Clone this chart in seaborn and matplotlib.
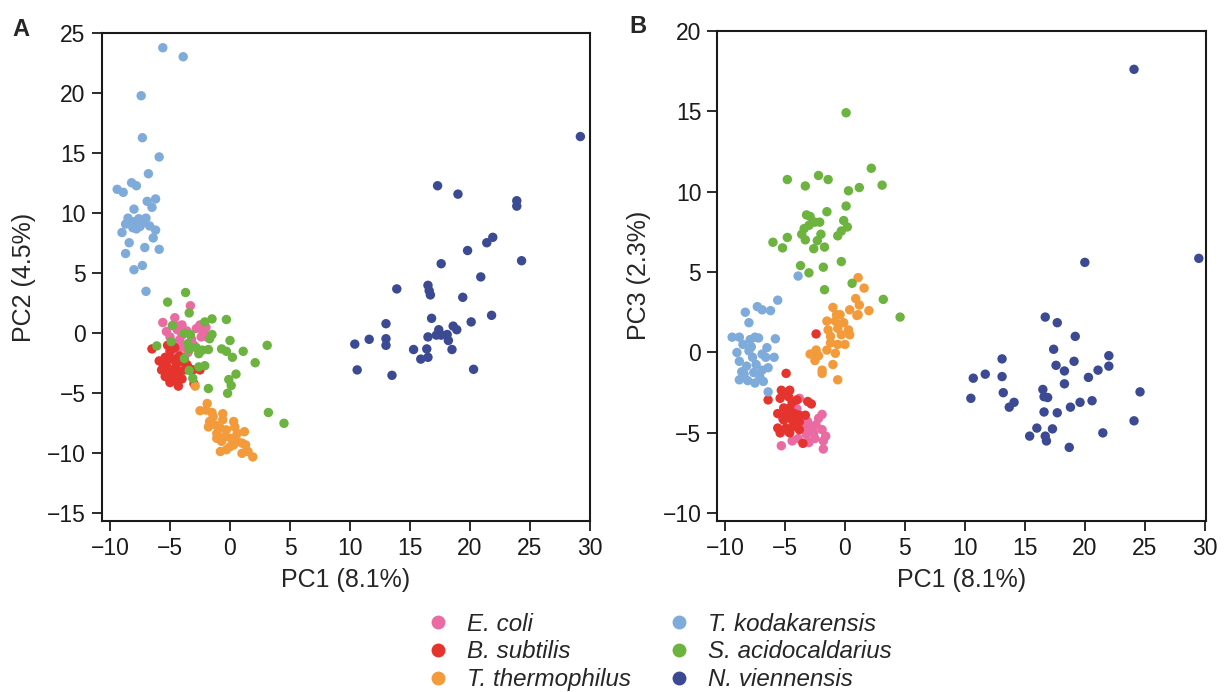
import pandas as pd
import matplotlib
matplotlib.use("Agg")
import matplotlib.pyplot as plt
import seaborn as sns

# ---------------------------------------------------------------------------
# Data (A: PC1 vs PC2, B: PC1 vs PC3)
# ---------------------------------------------------------------------------

species = ["E. coli", "B. subtilis", "T. thermophilus",
           "T. kodakarensis", "S. acidocaldarius", "N. viennensis"]
colors = ["#EA6BA2", "#E5332D", "#F39A3B", "#7FABDA", "#6CB33F", "#3B4A92"]

# E. coli
ecoli_a_pc1 = [-3.3, -4.6, -5.6, -4.0, -2.5, -2.0, -5.3, -4.4, -2.2, -4.2, -4.6, -3.0,
               -3.9, -4.0, -5.0, -4.4, -1.9, -3.6, -2.8, -4.8, -3.2, -2.4, -4.3, -3.5]
ecoli_a_pc2 = [2.3, 1.3, 0.9, 0.7, 0.7, 0.5, 0.15, 0.3, 0.15, -0.55, -0.85, -1.0,
               -1.15, -0.15, -0.3, -1.5, -0.3, 0.2, 0.4, -0.8, -0.5, -0.3, 0.6, -1.6]
ecoli_b_pc1 = [-3.8, -1.9, -5.2, -3.1, -2.4, -1.9, -2.6, -3.2, -2.5, -1.8, -5.3, -4.4,
               -1.8, -3.9, -2.9, -5.1, -4.0, -2.2, -3.0, -2.7, -4.8, -1.6, -3.4]
ecoli_b_pc3 = [-2.85, -3.85, -4.1, -4.3, -4.5, -4.8, -5.0, -5.1, -5.35, -5.5, -5.8, -5.5,
               -6.0, -5.35, -4.7, -3.8, -3.5, -4.1, -5.6, -4.6, -4.9, -5.2, -4.6]

# B. subtilis
bsub_a_pc1 = [-6.5, -5.0, -5.4, -5.6, -5.3, -5.0, -4.5, -4.8, -4.2, -4.4, -3.9, -3.5,
              -3.1, -2.5, -4.9, -4.2, -5.7, -5.0, -4.4, -3.0, -5.3, -4.6, -3.8, -5.1,
              -5.2, -4.6, -5.4, -4.0, -4.7, -3.6, -5.9, -4.3]
bsub_a_pc2 = [-1.3, -1.5, -2.0, -2.5, -3.05, -4.1, -4.0, -3.6, -3.2, -2.5, -2.35, -2.8,
              -3.05, -3.05, -2.1, -1.9, -3.05, -3.35, -3.55, -4.2, -2.65, -2.9, -3.05, -3.75,
              -1.0, -1.2, -3.6, -3.8, -2.2, -2.6, -2.3, -4.4]
bsub_b_pc1 = [-2.4, -4.9, -6.4, -5.3, -4.6, -5.4, -4.7, -4.0, -3.1, -2.8, -5.1, -4.6,
              -5.6, -4.9, -4.2, -3.8, -3.3, -5.1, -4.4, -3.8, -5.6, -4.9, -4.3, -5.4,
              -4.6, -3.8, -3.5, -4.4, -5.0]
bsub_b_pc3 = [1.15, -1.3, -2.95, -2.35, -2.35, -2.85, -2.75, -2.95, -3.05, -3.2, -3.45, -3.45,
              -3.8, -3.9, -3.8, -3.9, -3.9, -4.2, -4.2, -4.3, -4.7, -4.7, -4.6, -5.0,
              -5.0, -4.8, -5.65, -3.1, -2.5]

# T. thermophilus
tthe_a_pc1 = [-2.9, -1.9, -2.5, -1.5, -0.6, -1.7, -1.2, -0.6, 0.3, -0.8, -0.3, 0.4,
              1.2, -1.1, -0.4, 0.1, 0.6, 1.0, 0.0, -0.8, -0.3, 1.0, 1.5, 1.9,
              -1.1, -0.7, -1.4, -2.0, 0.3, 1.3, 0.6, -1.8]
tthe_a_pc2 = [-4.4, -5.85, -6.45, -6.6, -6.7, -7.35, -7.65, -7.2, -7.35, -7.9, -8.05, -7.8,
              -8.2, -8.75, -8.6, -8.75, -9.0, -9.15, -9.45, -9.85, -9.7, -10.0, -9.85, -10.3,
              -8.35, -9.0, -6.95, -6.4, -9.3, -9.3, -8.35, -7.8]
tthe_b_pc1 = [1.1, 1.6, 0.9, 1.2, 2.0, 0.4, 1.1, -1.0, -0.7, -0.4, -1.5, -0.8,
              -0.1, -1.4, -0.6, 0.3, -1.2, -0.3, 0.4, -1.2, -0.6, 0.0, -1.5, -0.8,
              -2.4, -2.9, -2.2, -2.5, -1.0, -1.9, -1.9, -0.6, 1.0]
tthe_b_pc3 = [4.65, 4.0, 3.35, 2.95, 2.6, 2.65, 2.35, 2.8, 2.35, 2.35, 1.95, 1.95,
              1.85, 1.4, 1.5, 1.4, 1.0, 1.1, 1.1, 0.6, 0.5, 0.5, 0.15, -0.05,
              0.15, -0.1, -0.2, -0.5, -0.75, -1.1, -1.3, -1.7, 2.3]

# T. kodakarensis
tkod_a_pc1 = [-5.6, -3.9, -7.4, -7.3, -5.9, -6.8, -8.2, -7.8, -9.4, -8.9, -6.2, -6.9,
              -6.5, -8.0, -8.5, -7.6, -8.7, -8.0, -7.2, -6.7, -6.2, -7.8, -9.0, -6.4,
              -8.4, -7.1, -5.9, -8.7, -7.3, -8.0, -7.0, -8.3, -7.5, -7.0, -8.1]
tkod_a_pc2 = [23.8, 23.05, 19.8, 16.3, 14.7, 13.3, 12.55, 12.3, 12.0, 11.75, 11.2, 11.0,
              10.5, 10.35, 9.6, 9.55, 9.1, 9.3, 9.25, 8.95, 8.6, 8.7, 8.4, 7.95,
              7.55, 7.15, 7.0, 6.65, 5.65, 5.3, 3.5, 9.3, 8.9, 9.6, 8.8]
tkod_b_pc1 = [-3.9, -5.6, -7.3, -6.9, -6.2, -8.3, -8.0, -9.4, -8.8, -7.9, -7.5, -7.2,
              -5.8, -9.0, -8.5, -7.8, -6.9, -7.7, -8.8, -6.6, -5.9, -7.4, -8.2, -6.9,
              -6.4, -8.4, -7.6, -8.8, -8.1, -6.8, -7.5, -6.4, -8.0, -7.1, -6.5, -8.6]
tkod_b_pc3 = [4.75, 3.25, 2.85, 2.65, 2.6, 2.5, 1.85, 0.95, 0.95, 0.8, 0.95, 0.9,
              0.85, 0.0, 0.5, 0.35, -0.1, -0.3, -0.55, -0.3, -0.3, -0.75, -0.85, -1.1,
              -0.95, -1.35, -1.25, -1.7, -1.75, -1.8, -1.9, -2.45, 0.1, -1.5, 0.3, -1.2]

# S. acidocaldarius
saci_a_pc1 = [-3.7, -5.2, -3.4, -1.5, -0.3, -2.1, -4.8, -1.5, -1.7, -3.8, -3.3, 0.0,
              3.1, -6.1, -4.9, -3.5, -2.8, -2.3, -1.8, -3.4, -0.7, -0.3, 1.1, 0.2,
              -2.6, -3.8, 2.1, -2.1, -2.6, -3.4, -3.1, 0.5, -0.1, 0.1, -1.8, -0.2,
              3.2, 4.5]
saci_a_pc2 = [3.4, 2.6, 1.7, 1.2, 1.15, 0.95, 0.65, -0.1, -0.45, 0.0, -0.1, -0.6,
              -1.0, -1.05, -0.7, -0.85, -1.2, -1.4, -1.35, -1.35, -1.3, -1.5, -1.5, -2.0,
              -1.7, -2.1, -2.45, -2.7, -2.8, -3.1, -3.75, -3.4, -3.85, -4.35, -4.6, -5.0,
              -6.6, -7.5]
saci_b_pc1 = [2.2, -4.8, -2.2, -1.4, -3.3, 3.1, 1.2, 0.3, 0.1, -1.5, -3.2, -2.9,
              -2.5, -2.1, -0.1, 0.2, -0.3, -0.6, -3.4, -3.6, -3.3, -2.0, -2.3, -4.8,
              -6.0, -5.2, -2.6, -1.7, -0.3, -3.7, -3.0, -1.8, 0.6, -1.7, 3.2, 4.6,
              0.1, -3.0]
saci_b_pc3 = [11.45, 10.75, 11.0, 10.75, 10.35, 10.4, 10.25, 10.05, 9.1, 8.75, 8.55, 8.45,
              8.1, 8.1, 8.2, 7.8, 7.55, 7.25, 7.7, 7.35, 7.0, 7.35, 6.95, 7.15,
              6.85, 6.5, 6.45, 6.55, 5.65, 5.4, 4.95, 5.3, 4.3, 3.9, 3.3, 2.2,
              14.9, 7.9]

# N. viennensis
nvie_a_pc1 = [29.2, 17.3, 19.0, 23.9, 23.9, 21.9, 21.4, 19.8, 17.6, 24.3, 20.9, 13.9,
              16.5, 16.6, 16.7, 19.4, 16.8, 21.8, 13.0, 20.1, 18.6, 18.9, 17.4, 11.6,
              13.0, 10.4, 13.0, 16.5, 17.2, 17.6, 18.1, 18.2, 15.3, 16.4, 18.5, 15.9,
              16.5, 10.6, 13.5, 20.3]
nvie_a_pc2 = [16.4, 12.3, 11.6, 11.05, 10.6, 8.0, 7.55, 6.9, 5.8, 6.05, 4.7, 3.7,
              4.0, 3.55, 3.2, 3.0, 1.25, 1.5, 0.8, 0.95, 0.6, 0.3, 0.3, -0.5,
              -0.45, -0.9, -1.0, -0.3, -0.15, -0.15, -0.1, -0.6, -1.35, -1.3, -1.35, -2.15,
              -2.0, -3.05, -3.5, -3.0]
nvie_b_pc1 = [24.1, 20.0, 29.5, 16.7, 17.7, 19.2, 17.4, 13.1, 22.0, 17.6, 19.1, 22.0,
              18.3, 21.1, 10.7, 11.7, 13.1, 20.3, 18.3, 10.5, 13.2, 14.1, 13.7, 16.5,
              16.6, 16.9, 24.6, 19.6, 20.6, 18.8, 16.6, 17.7, 24.1, 16.0, 17.3, 15.4,
              16.7, 16.8, 21.5, 18.7]
nvie_b_pc3 = [17.6, 5.6, 5.85, 2.2, 1.85, 1.0, 0.2, -0.4, -0.2, -0.8, -0.55, -0.85,
              -1.15, -1.1, -1.6, -1.35, -1.5, -1.55, -1.95, -2.85, -2.5, -3.1, -3.4, -2.3,
              -2.75, -2.8, -2.45, -3.1, -3.0, -3.4, -3.7, -3.75, -4.25, -4.7, -4.75, -5.2,
              -5.2, -5.5, -5.0, -5.9]

# ---------------------------------------------------------------------------
# Build long tables
# ---------------------------------------------------------------------------

panel_a_parts = [
    (species[0], ecoli_a_pc1, ecoli_a_pc2),
    (species[1], bsub_a_pc1, bsub_a_pc2),
    (species[2], tthe_a_pc1, tthe_a_pc2),
    (species[3], tkod_a_pc1, tkod_a_pc2),
    (species[4], saci_a_pc1, saci_a_pc2),
    (species[5], nvie_a_pc1, nvie_a_pc2),
]
panel_b_parts = [
    (species[0], ecoli_b_pc1, ecoli_b_pc3),
    (species[1], bsub_b_pc1, bsub_b_pc3),
    (species[2], tthe_b_pc1, tthe_b_pc3),
    (species[3], tkod_b_pc1, tkod_b_pc3),
    (species[4], saci_b_pc1, saci_b_pc3),
    (species[5], nvie_b_pc1, nvie_b_pc3),
]

df_a = pd.concat(
    [pd.DataFrame({"PC1": x, "PC": y, "Species": name}) for name, x, y in panel_a_parts],
    ignore_index=True
)
df_b = pd.concat(
    [pd.DataFrame({"PC1": x, "PC": y, "Species": name}) for name, x, y in panel_b_parts],
    ignore_index=True
)

# ---------------------------------------------------------------------------
# Style
# ---------------------------------------------------------------------------

sns.set_theme(style="ticks")
plt.rcParams["font.family"] = ["Liberation Sans", "DejaVu Sans"]
plt.rcParams["axes.linewidth"] = 1.5
plt.rcParams["axes.edgecolor"] = "#1a1a1a"

palette = dict(zip(species, colors))

fig = plt.figure(figsize=(12.24, 6.92), dpi=100)

ax_a = fig.add_axes([0.0831, 0.2475, 0.3989, 0.7043])
ax_b = fig.add_axes([0.5860, 0.2475, 0.3993, 0.7081])

for ax, df, ylab in [(ax_a, df_a, "PC2 (4.5%)"), (ax_b, df_b, "PC3 (2.3%)")]:
    sns.scatterplot(
        data=df, x="PC1", y="PC", hue="Species", hue_order=species,
        palette=palette, s=46, linewidth=0, alpha=1.0, ax=ax,
        legend=(ax is ax_a)
    )
    ax.set_xticks(range(-10, 31, 5))
    ax.set_xlabel("PC1 (8.1%)", fontsize=18, labelpad=6)
    ax.set_ylabel(ylab, fontsize=18, labelpad=8)
    ax.tick_params(axis="both", labelsize=16.5, length=7.5, width=1.3,
                   direction="out", pad=4, colors="#1a1a1a")
    for side in ["top", "right", "bottom", "left"]:
        ax.spines[side].set_visible(True)
        ax.spines[side].set_linewidth(1.5)

ax_a.set_xlim(-10.69, 30.0)
ax_a.set_ylim(-15.62, 25.0)
ax_a.set_yticks(range(-15, 26, 5))

ax_b.set_xlim(-10.64, 30.1)
ax_b.set_ylim(-10.46, 20.0)
ax_b.set_yticks(range(-10, 21, 5))

# Panel letters
fig.text(0.010, 0.958, "A", fontsize=17, fontweight="bold", ha="left", va="center")
fig.text(0.514, 0.961, "B", fontsize=17, fontweight="bold", ha="left", va="center")

# Shared legend below the panels
handles, labels = ax_a.get_legend_handles_labels()
ax_a.get_legend().remove()
for h in handles:
    if hasattr(h, "set_markersize"):
        h.set_markersize(10)
    else:
        h.set_sizes([100])

fig.legend(
    handles, labels, ncol=2, loc="center",
    bbox_to_anchor=(659 / 1224, 0.058), frameon=False,
    prop={"size": 17.4, "style": "italic"},
    handlelength=1.0, handletextpad=0.7, columnspacing=1.5,
    labelspacing=0.2, borderpad=0
)

fig.savefig("out.png", dpi=100)
